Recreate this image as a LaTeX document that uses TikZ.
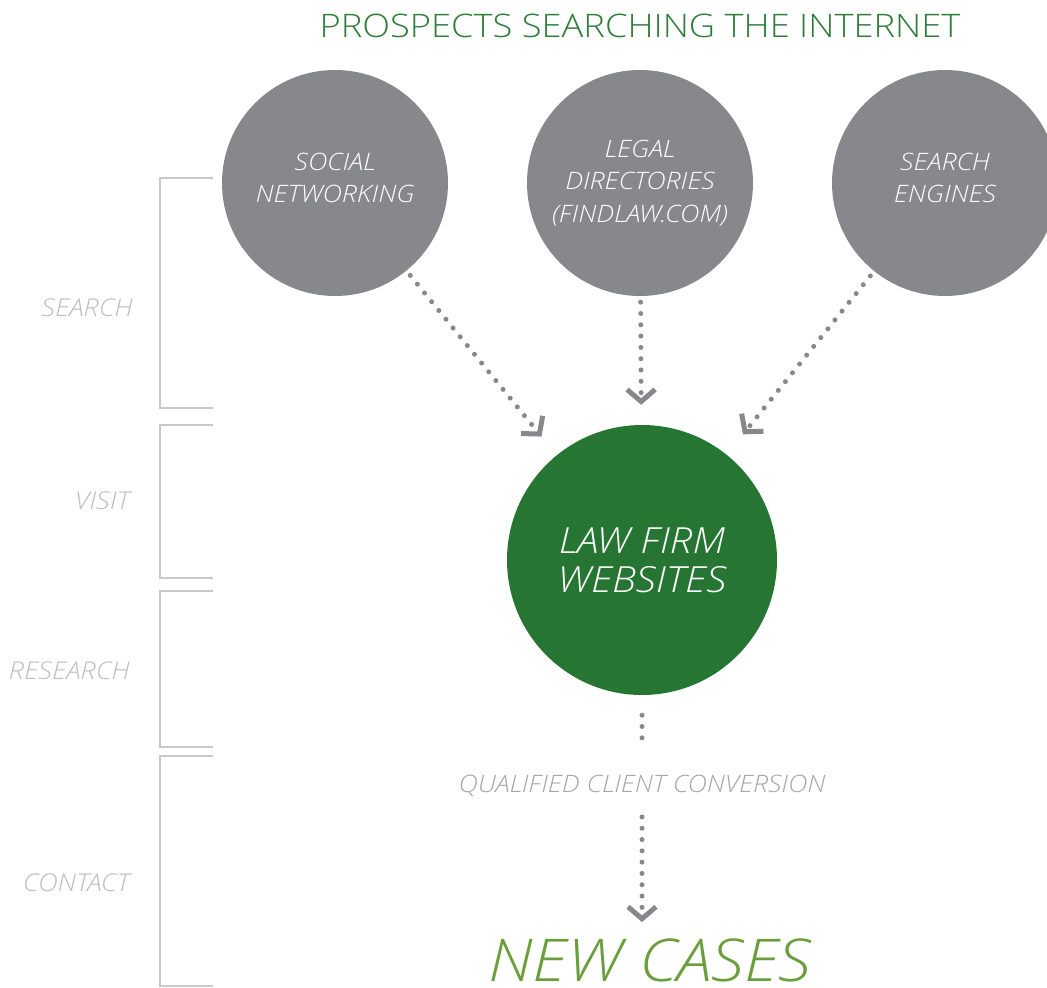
\documentclass[tikz,border=0pt]{standalone}
\usepackage{fontspec}
\setmainfont{Open Sans Light}[FakeStretch=1.12]
\usetikzlibrary{arrows.meta}
\definecolor{cgray}{HTML}{87888C}
\definecolor{cgreen}{HTML}{267532}
\definecolor{ctitle}{HTML}{2E7D3A}
\definecolor{colive}{HTML}{6A9E3A}
\definecolor{clabel}{HTML}{BDBDBD}
\definecolor{cbracket}{HTML}{C8C8C8}
\tikzset{
  graycirc/.style={circle, fill=cgray, minimum size=226pt, inner sep=0pt},
  circtext/.style={text=white, align=center, inner sep=0pt, font=\fontsize{24}{32.5}\selectfont\itshape},
  greencirc/.style={circle, fill=cgreen, minimum size=270pt, inner sep=0pt, text=white,
    align=center, font=\fontsize{36}{39}\selectfont\itshape},
  dots/.style={draw=cgray, line width=5pt, line cap=round, dash pattern=on 0pt off 11.3pt},
  chev/.style={-{Straight Barb[length=12pt,width=28pt,line width=5pt]}},
  stage/.style={text=clabel, anchor=east, font=\fontsize{24.5}{28}\selectfont\itshape, inner sep=0pt},
  bracket/.style={draw=cbracket, line width=1.3pt},
}
\begin{document}
\begin{tikzpicture}[x=1pt,y=-1pt]
\useasboundingbox (0,0) rectangle (1047,988);
\node[text=ctitle, font=\fontsize{32.4}{40}\selectfont, inner sep=0pt] (title) at (640,26) {PROSPECTS SEARCHING THE INTERNET};
\node[graycirc] (social) at (335,183) {};
\node[graycirc] (legal) at (640,183) {};
\node[graycirc] (search) at (945,183) {};
\node[circtext] (socialtxt) at (335,178) {SOCIAL\\NETWORKING};
\node[circtext] (legaltxt) at (640,183) {LEGAL\\DIRECTORIES\\(FINDLAW.COM)};
\node[circtext] (searchtxt) at (945,178) {SEARCH\\ENGINES};
\node[greencirc] (web) at (642,560) {LAW FIRM\\WEBSITES};
\node[text=cgray!75, font=\fontsize{24}{28}\selectfont\itshape, inner sep=0pt] (qcc) at (642,786) {QUALIFIED CLIENT CONVERSION};
\node[text=colive, font=\fontsize{59}{60}\selectfont\itshape, inner sep=0pt, anchor=base] (cases) at (650,981) {NEW CASES};

\draw[dots, chev, shorten <=6pt, shorten >=24pt] (social) -- (web);
\draw[dots, chev, shorten <=6pt, shorten >=20pt] (legal) -- (web);
\draw[dots, chev, shorten <=6pt, shorten >=26pt] (search) -- (web);
\draw[dots, shorten <=20pt, shorten >=26pt] (web.south) -- (qcc.north);
\draw[dots, chev, shorten <=20pt, shorten >=16pt] (qcc.south) -- (qcc.south |- cases.north);

\coordinate (b1t) at (213,178); \coordinate (b1b) at (213,408);
\coordinate (b2t) at (213,425); \coordinate (b2b) at (213,578);
\coordinate (b3t) at (213,591); \coordinate (b3b) at (213,747);
\coordinate (b4t) at (213,756); \coordinate (b4b) at (213,986);
\draw[bracket] (b1t) -| (160,408) -- (b1b);
\draw[bracket] (b2t) -| (160,578) -- (b2b);
\draw[bracket] (b3t) -| (160,747) -- (b3b);
\draw[bracket] (b4t) -| (160,986) -- (b4b);

\node[stage] (s1) at (133,308) {SEARCH};
\node[stage] (s2) at (130,501) {VISIT};
\node[stage] (s3) at (130,671) {RESEARCH};
\node[stage] (s4) at (130,883) {CONTACT};
\end{tikzpicture}
\end{document}
